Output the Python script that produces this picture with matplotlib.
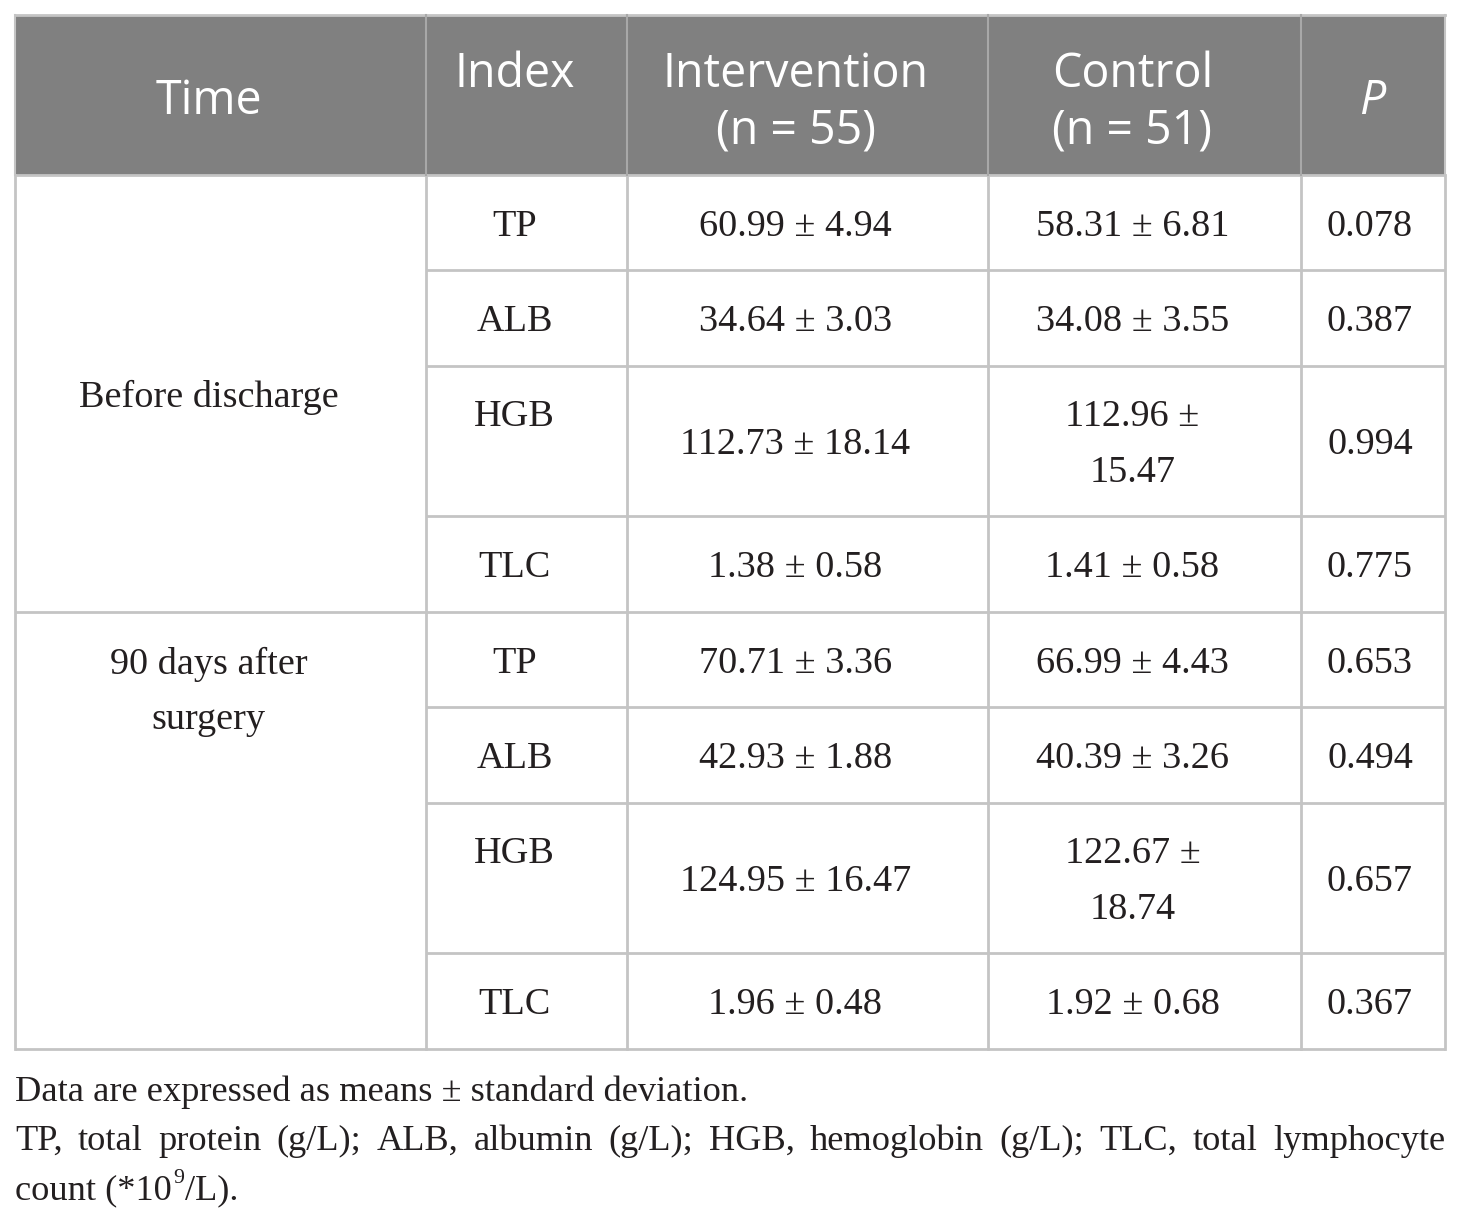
import matplotlib
matplotlib.use("Agg")
import matplotlib.pyplot as plt

# ---- data ----
header_time = "Time"
header_index = "Index"
header_int = "Intervention\n(n = 55)"
header_ctl = "Control\n(n = 51)"
header_p = "P"
times = ["Before discharge", "90 days after\nsurgery"]
indices = ["TP", "ALB", "HGB", "TLC"]
intervention = [["60.99 ± 4.94", "34.64 ± 3.03", "112.73 ± 18.14", "1.38 ± 0.58"],
                ["70.71 ± 3.36", "42.93 ± 1.88", "124.95 ± 16.47", "1.96 ± 0.48"]]
control = [["58.31 ± 6.81", "34.08 ± 3.55", "112.96 ±\n15.47", "1.41 ± 0.58"],
           ["66.99 ± 4.43", "40.39 ± 3.26", "122.67 ±\n18.74", "1.92 ± 0.68"]]
pvals = [["0.078", "0.387", "0.994", "0.775"],
         ["0.653", "0.494", "0.657", "0.367"]]
foot1 = "Data are expressed as means ± standard deviation."
foot2 = "TP, total protein (g/L); ALB, albumin (g/L); HGB, hemoglobin (g/L); TLC, total lymphocyte"
foot3 = ("count (*10", "9", "/L).")

W, H = 1460, 1219
fig = plt.figure(figsize=(W / 100, H / 100), dpi=100)
ax = fig.add_axes([0, 0, 1, 1])
ax.set_xlim(0, W)
ax.set_ylim(H, 0)
ax.axis("off")

cols = [15, 426, 627, 988, 1301, 1445]
top, hdr_bot = 15, 175
row_h = [95, 96, 150, 96]
SERIF = "Liberation Serif"
SANS = "Open Sans"
TXT = "#231f20"
GRID = "#c4c4c4"
fs_body = 27.5
fs_head = 33.5
ls = 56  # line spacing px

ax.add_patch(plt.Rectangle((cols[0], top), cols[-1] - cols[0], hdr_bot - top,
                           facecolor="#808080", edgecolor="none", zorder=0))

def lines_text(x, y_first, s, fs, family, color, style="normal", ha="center"):
    for k, line in enumerate(s.split("\n")):
        ax.text(x, y_first + k * ls, line, fontsize=fs, family=family, color=color,
                ha=ha, va="center_baseline", fontstyle=style)

# header (text centres sit a little left of the cell centres)
cx = [(cols[i] + cols[i + 1]) / 2 - 12 for i in range(4)] + [(cols[4] + cols[5]) / 2 - 1]
lines_text(cx[0], 96, header_time, fs_head, SANS, "white")
lines_text(cx[1], 69, header_index, fs_head, SANS, "white")
lines_text(cx[2], 69, header_int, fs_head, SANS, "white")
lines_text(cx[3], 69, header_ctl, fs_head, SANS, "white")
lines_text(cx[4], 96, header_p, fs_head, SANS, "white", style="italic")

# body rows
y = hdr_bot
row_edges = [y]
for g in range(2):
    gstart = y
    for r in range(4):
        h = row_h[r]
        y0, y1 = y, y + h
        mid = (y0 + y1) / 2
        topline = y0 + 47
        if "\n" in control[g][r]:
            lines_text(cx[1], topline, indices[r], fs_body, SERIF, TXT)
            lines_text(cx[2], mid, intervention[g][r], fs_body, SERIF, TXT)
            lines_text(cx[3], topline, control[g][r], fs_body, SERIF, TXT)
        else:
            lines_text(cx[1], mid, indices[r], fs_body, SERIF, TXT)
            lines_text(cx[2], mid, intervention[g][r], fs_body, SERIF, TXT)
            lines_text(cx[3], mid, control[g][r], fs_body, SERIF, TXT)
        lines_text(cx[4] - 2, mid, pvals[g][r], fs_body, SERIF, TXT)
        y = y1
        row_edges.append(y)
    if g == 0:
        lines_text(cx[0], (gstart + y) / 2, times[g], fs_body, SERIF, TXT)
    else:
        lines_text(cx[0], gstart + 48, times[g], fs_body, SERIF, TXT)

bottom = y
# grid lines
lw = 2.0
for i, ye in enumerate(row_edges):
    x0 = cols[0] if i in (0, 4, 8) else cols[1]
    ax.plot([x0, cols[-1]], [ye, ye], color=GRID, lw=lw, solid_capstyle="butt")
ax.plot([cols[0], cols[-1]], [top, top], color=GRID, lw=lw)
for c in cols:
    ax.plot([c, c], [hdr_bot, bottom], color=GRID, lw=lw)
for c in cols:
    col = GRID if c in (cols[0], cols[-1]) else "#a8a8a8"
    ax.plot([c, c], [top, hdr_bot], color=col, lw=1.5)

# footnotes
fs_foot = 26.2
ax.text(cols[0], 1088, foot1, fontsize=fs_foot, family=SERIF, color=TXT,
        ha="left", va="center_baseline")

fig.canvas.draw()
r = fig.canvas.get_renderer()

def width_px(s, fs):
    t = ax.text(0, 0, s, fontsize=fs, family=SERIF)
    bb = t.get_window_extent(renderer=r)
    t.remove()
    return bb.width

# justified line 2
words = foot2.split(" ")
ws = [width_px(w, fs_foot) for w in words]
gap = (cols[-1] - cols[0] - sum(ws)) / (len(words) - 1)
xp = cols[0]
for w, wd in zip(words, ws):
    ax.text(xp, 1137, w, fontsize=fs_foot, family=SERIF, color=TXT,
            ha="left", va="center_baseline")
    xp += wd + gap

# line 3 with superscript
a, sup, b = foot3
wa = width_px(a, fs_foot)
ax.text(cols[0], 1187, a, fontsize=fs_foot, family=SERIF, color=TXT,
        ha="left", va="center_baseline")
ws_ = width_px(sup, fs_foot * 0.6)
ax.text(cols[0] + wa + 1, 1176, sup, fontsize=fs_foot * 0.6, family=SERIF, color=TXT,
        ha="left", va="center_baseline")
ax.text(cols[0] + wa + ws_ + 2, 1187, b, fontsize=fs_foot, family=SERIF, color=TXT,
        ha="left", va="center_baseline")

fig.savefig("out.png", dpi=100, facecolor="white")
